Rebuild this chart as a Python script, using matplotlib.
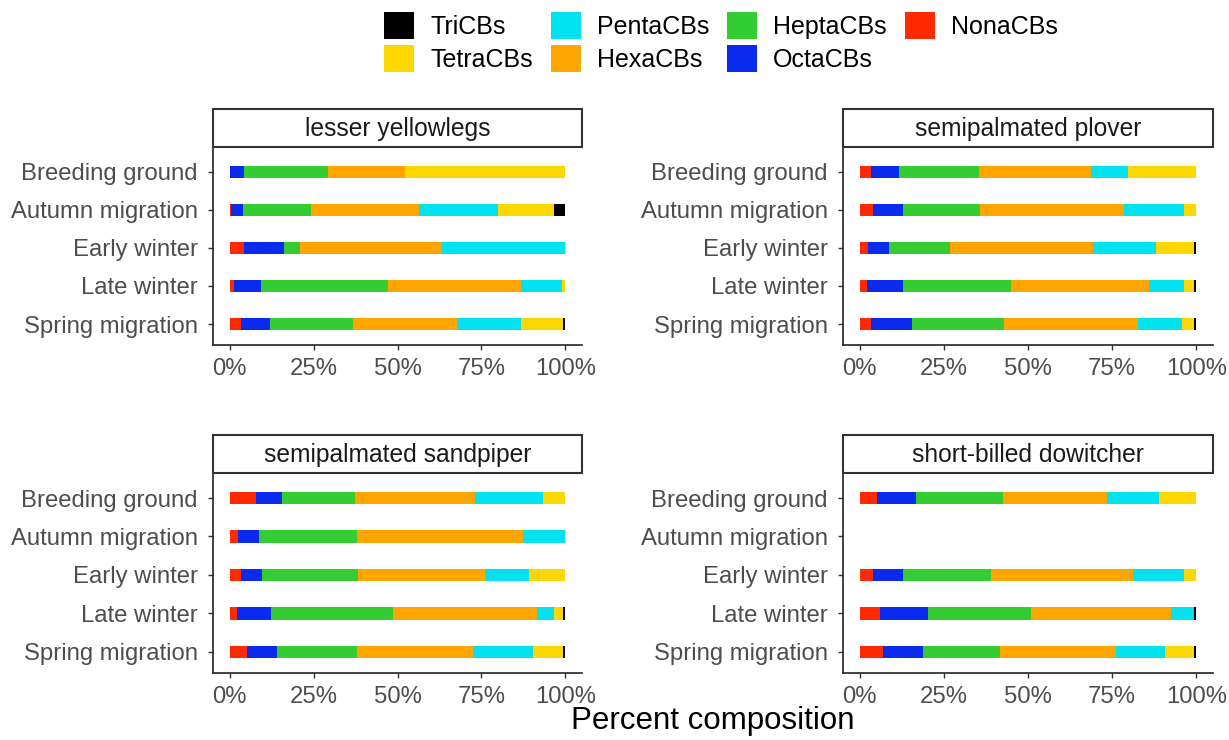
import numpy as np
import matplotlib.pyplot as plt
from matplotlib.patches import Patch, Rectangle

plt.rcParams['font.family'] = ['Liberation Sans', 'DejaVu Sans']

# homolog groups, in legend order (stacked right to left)
groups = ['TriCBs', 'TetraCBs', 'PentaCBs', 'HexaCBs', 'HeptaCBs', 'OctaCBs', 'NonaCBs']
colors = ['#000000', '#FFD700', '#00E2EE', '#FFA500', '#33CC33', '#0A2BEE', '#FF2A00']

periods = ['Breeding ground', 'Autumn migration', 'Early winter', 'Late winter', 'Spring migration']
species = ['lesser yellowlegs', 'semipalmated plover',
           'semipalmated sandpiper', 'short-billed dowitcher']

# percent composition per period, columns follow `groups`
yellowlegs = [
    [0.0, 47.7, 0.0, 23.1, 25.0, 4.2, 0.0],
    [3.3, 16.7, 23.6, 32.3, 20.2, 3.5, 0.4],
    [0.0, 0.0, 36.8, 42.2, 4.7, 12.1, 4.2],
    [0.0, 1.1, 12.0, 39.6, 37.9, 8.2, 1.2],
    [0.8, 12.3, 19.1, 31.2, 24.6, 8.6, 3.4],
]
plover = [
    [0.0, 20.4, 10.9, 33.4, 23.7, 8.2, 3.4],
    [0.0, 3.7, 17.8, 42.7, 22.9, 9.1, 3.8],
    [0.7, 11.2, 18.9, 42.5, 18.1, 6.1, 2.5],
    [0.7, 3.0, 10.4, 41.1, 31.9, 10.8, 2.1],
    [0.7, 3.5, 13.0, 39.8, 27.5, 12.1, 3.4],
]
sandpiper = [
    [0.0, 6.6, 20.3, 35.7, 21.9, 7.8, 7.7],
    [0.0, 0.0, 12.6, 49.6, 29.1, 6.2, 2.5],
    [0.0, 10.9, 13.0, 37.8, 28.8, 6.1, 3.4],
    [0.8, 2.5, 5.1, 42.9, 36.3, 10.3, 2.1],
    [0.8, 8.8, 17.8, 34.8, 23.7, 9.1, 5.0],
]
dowitcher = [
    [0.0, 11.0, 15.5, 30.9, 25.8, 11.7, 5.1],
    [0.0, 0.0, 0.0, 0.0, 0.0, 0.0, 0.0],   # no samples
    [0.0, 3.7, 15.0, 42.2, 26.2, 9.1, 3.8],
    [0.7, 0.0, 6.9, 41.6, 30.6, 14.1, 6.1],
    [0.7, 8.7, 14.5, 34.3, 22.9, 12.0, 6.9],
]
tables = [yellowlegs, plover, sandpiper, dowitcher]

W, H = 1229, 740
fig = plt.figure(figsize=(W / 100, H / 100), dpi=100)

# panel boxes in pixels: left, top, right, bottom
boxes = [(213, 147, 582, 345), (843, 147, 1213, 345),
         (213, 473, 582, 673), (843, 473, 1213, 673)]
strip_h = 38


def px_axes(l, t, r, b):
    return fig.add_axes([l / W, 1 - b / H, (r - l) / W, (b - t) / H])


for name, table, (l, t, r, b) in zip(species, tables, boxes):
    ax = px_axes(l, t, r, b)
    vals = np.array(table, dtype=float)
    tot = vals.sum(axis=1, keepdims=True)
    frac = np.divide(vals, tot, out=np.zeros_like(vals), where=tot > 0)
    y = np.arange(len(periods))
    left = np.zeros(len(periods))
    # Nona at the left, Tri at the right
    for j in range(len(groups) - 1, -1, -1):
        ax.barh(y, frac[:, j], left=left, height=0.32, color=colors[j], linewidth=0)
        left += frac[:, j]

    ax.set_xlim(-0.05, 1.05)
    ax.set_ylim(len(periods) - 0.45, -0.65)
    ax.set_yticks(y)
    ax.set_yticklabels(periods)
    ax.set_xticks([0, 0.25, 0.5, 0.75, 1.0])
    ax.set_xticklabels(['0%', '25%', '50%', '75%', '100%'])
    ax.tick_params(labelsize=17.2, labelcolor='#4D4D4D', color='#333333',
                   length=3.5, width=1.0)
    ax.tick_params(axis='y', pad=7.5)
    ax.tick_params(axis='x', pad=6)
    for s in ['top', 'right']:
        ax.spines[s].set_visible(False)
    for s in ['left', 'bottom']:
        ax.spines[s].set_linewidth(1.2)
        ax.spines[s].set_color('#222222')

    # facet strip
    sx = px_axes(l, t - strip_h, r, t)
    sx.set_axis_off()
    sx.add_patch(Rectangle((0, 0), 1, 1, transform=sx.transAxes, facecolor='white',
                           edgecolor='#333333', linewidth=1.5, clip_on=False))
    sx.text(0.5, 0.47, name, ha='center', va='center', fontsize=17.7,
            color='#1A1A1A', transform=sx.transAxes)

fig.text(713 / W, 1 - 721 / H, 'Percent composition', ha='center', va='center',
         fontsize=22.5, color='black')

handles = [Patch(facecolor=c, edgecolor='none') for c in colors]
fig.legend(handles, groups, ncol=4, loc='upper center',
           bbox_to_anchor=(721 / W, 1 - 12 / H), frameon=False, fontsize=18,
           handlelength=1.2, handleheight=1.3, handletextpad=0.64,
           columnspacing=0.72, labelspacing=0.22, borderaxespad=0,
           borderpad=0)

fig.savefig('out.png', dpi=100)
